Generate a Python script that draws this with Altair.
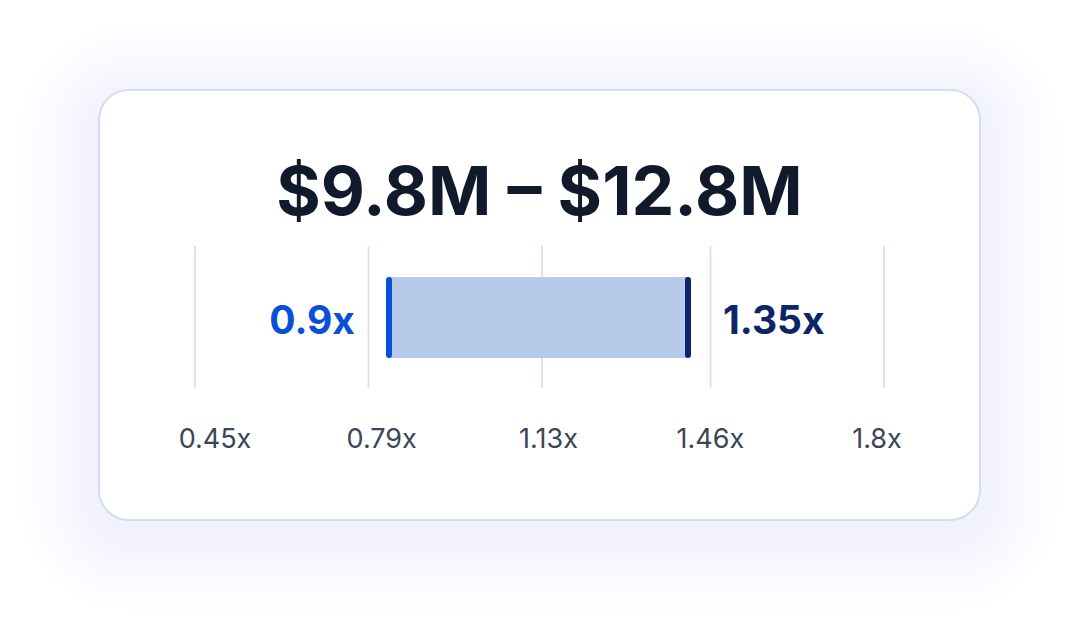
import altair as alt
import pandas as pd

# headline range (millions of dollars)
range_low_m = 9.8
range_high_m = 12.8

# multiple band shown on the track
multiple_low = 0.9
multiple_high = 1.35

# track ticks
tick_values = [0.45, 0.79, 1.13, 1.46, 1.8]

W, H = 881, 430
FONT = "Inter"

ticks = pd.DataFrame({"tick": tick_values})
ticks["label"] = [f"{v:g}x" for v in tick_values]

band = pd.DataFrame({"lo": [multiple_low], "hi": [multiple_high]})
band["lo_label"] = band["lo"].map(lambda v: f"{v:g}x")
band["hi_label"] = band["hi"].map(lambda v: f"{v:g}x")

headline = pd.DataFrame({"text": [f"${range_low_m:g}M – ${range_high_m:g}M"]})
dummy = pd.DataFrame({"k": [0]})

# soft glow around the card, a bit heavier below
glow_layers = []
for k in range(6, 84, 6):
    glow_layers.append(
        alt.Chart(dummy).mark_rect(
            fill="#c9d5f2", opacity=0.028, cornerRadius=30 + k
        ).encode(
            x=alt.value(-k), x2=alt.value(W + k),
            y=alt.value(-k + 12), y2=alt.value(H + k + 12),
        )
    )

card = alt.Chart(dummy).mark_rect(
    fill="white", stroke="#d3ddf3", strokeWidth=2, cornerRadius=30
).encode(x=alt.value(0), x2=alt.value(W), y=alt.value(0), y2=alt.value(H))

grid = alt.Chart(ticks).mark_rule(color="#dbe3f2", strokeWidth=2).encode(
    x=alt.X("tick:Q", scale=alt.Scale(domain=[0.45, 1.8], range=[96, 785]), axis=None),
    y=alt.value(156), y2=alt.value(298),
)

# labels sit in a slightly wider row than the gridlines
tick_text = alt.Chart(ticks).mark_text(
    font=FONT, fontSize=27, color="#3a4558", baseline="alphabetic", align="center"
).encode(
    x=alt.X("tick:Q", scale=alt.Scale(domain=[0.45, 1.8], range=[116, 778]), axis=None),
    y=alt.value(358), text="label:N",
)

band_x = alt.Scale(domain=[multiple_low, multiple_high], range=[290, 589])

bar = alt.Chart(band).mark_rect(color="#b7caea").encode(
    x=alt.X("lo:Q", scale=band_x, axis=None), x2="hi:Q",
    y=alt.value(187), y2=alt.value(268),
)

cap_lo = alt.Chart(band).mark_rule(color="#0b4fd8", strokeWidth=6, strokeCap="round").encode(
    x=alt.X("lo:Q", scale=band_x, axis=None), y=alt.value(190), y2=alt.value(265)
)
cap_hi = alt.Chart(band).mark_rule(color="#0d2566", strokeWidth=6, strokeCap="round").encode(
    x=alt.X("hi:Q", scale=band_x, axis=None), y=alt.value(190), y2=alt.value(265)
)

lo_text = alt.Chart(band).mark_text(
    font=FONT, fontSize=39, fontWeight="bold", color="#0b4fd8",
    align="right", baseline="alphabetic", dx=-34,
).encode(x=alt.X("lo:Q", scale=band_x, axis=None), y=alt.value(244), text="lo_label:N")

hi_text = alt.Chart(band).mark_text(
    font=FONT, fontSize=39, fontWeight="bold", color="#0d2566",
    align="left", baseline="alphabetic", dx=35,
).encode(x=alt.X("hi:Q", scale=band_x, axis=None), y=alt.value(244), text="hi_label:N")

title = alt.Chart(headline).mark_text(
    font=FONT, fontSize=68, fontWeight="bold", color="#111a2b",
    align="center", baseline="alphabetic",
).encode(x=alt.value(W / 2), y=alt.value(125), text="text:N")

chart = alt.layer(
    *glow_layers, card, grid, tick_text, bar, cap_lo, cap_hi, lo_text, hi_text, title
).resolve_scale(x="independent").properties(
    width=W, height=H,
    autosize=alt.AutoSizeParams(type="none"),
    padding={"left": 91, "top": 82, "right": 92, "bottom": 95},
).configure(background="white").configure_view(stroke=None)

chart.save("out.html", embed_options={"renderer": "svg", "actions": False})
